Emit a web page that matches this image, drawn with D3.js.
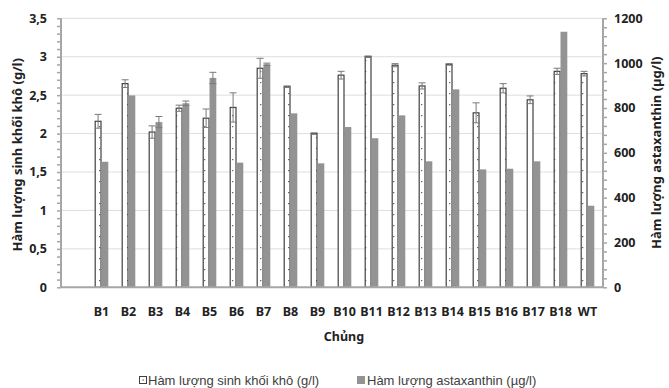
<!DOCTYPE html>
<html>
<head>
<meta charset="utf-8">
<script src="https://cdn.jsdelivr.net/npm/d3@7"></script>
<style>
  body { margin: 0; background: #fff; }
  svg { display: block; font-family: "Noto Sans", sans-serif; }
</style>
</head>
<body>
<svg id="chart" width="669" height="388"></svg>
<script>
// strains (first slot left empty, as in the original sheet)
var strains = ["", "B1", "B2", "B3", "B4", "B5", "B6", "B7", "B8", "B9", "B10", "B11", "B12", "B13", "B14", "B15", "B16", "B17", "B18", "WT"];
// dry biomass g/l and its error
var biomass = [null, 2.16, 2.65, 2.02, 2.33, 2.2, 2.34, 2.85, 2.61, 2.0, 2.76, 3.0, 2.89, 2.62, 2.9, 2.27, 2.59, 2.44, 2.81, 2.78];
var biomassErr = [null, 0.09, 0.05, 0.08, 0.04, 0.12, 0.19, 0.13, 0.01, 0.01, 0.05, 0.01, 0.02, 0.04, 0.01, 0.13, 0.06, 0.05, 0.04, 0.03];
// astaxanthin ug/l and its error
var asta = [null, 560, 856, 737, 821, 934, 556, 995, 776, 553, 715, 665, 767, 562, 883, 526, 529, 562, 1140, 364];
var astaErr = [null, 0, 0, 25, 10, 25, 0, 5, 0, 0, 0, 0, 0, 0, 0, 0, 0, 0, 0, 0];
var leftTicks = [0, 0.5, 1, 1.5, 2, 2.5, 3, 3.5];
var rightTicks = [0, 200, 400, 600, 800, 1000, 1200];

(function chart() {
    var svg = d3.select("#chart"),
        left = 61, right = 603, top = 18.3, bottom = 287.3;

    var x = d3.scaleBand().domain(strains).range([left, 601]);
    var x1 = d3.scaleBand().domain(["bio", "asta"]).range([-6.8, 6.8]);
    var y = d3.scaleLinear().domain([0, 3.5]).range([bottom, top]);
    var y2 = d3.scaleLinear().domain([0, 1200]).range([bottom, top]);

    // dotted pattern for the white bars
    var pat = svg.append("defs").append("pattern")
        .attr("id", "dots")
        .attr("patternUnits", "userSpaceOnUse")
        .attr("width", 7).attr("height", 11);
    pat.append("rect").attr("width", 7).attr("height", 11).attr("fill", "#fff");
    pat.append("rect").attr("x", 1).attr("y", 5).attr("width", 1.3).attr("height", 1.2).attr("fill", "#666");

    // grid
    svg.append("g").selectAll("line")
        .data(leftTicks.slice(1))
        .enter().append("line")
        .attr("x1", left).attr("x2", right)
        .attr("y1", function(d) { return y(d); })
        .attr("y2", function(d) { return y(d); })
        .attr("stroke", "#dedede").attr("stroke-width", 1);

    var rows = strains.map(function(s, i) {
        return {s: s, b: biomass[i], be: biomassErr[i], a: asta[i], ae: astaErr[i]};
    }).filter(function(d) { return d.b != null; });

    // biomass bars
    svg.append("g").selectAll("rect")
        .data(rows)
        .enter().append("rect")
        .attr("x", function(d) { return x(d.s) + x.bandwidth() / 2 + x1("bio") + 0.5; })
        .attr("y", function(d) { return y(d.b); })
        .attr("width", x1.bandwidth() - 1)
        .attr("height", function(d) { return bottom - y(d.b); })
        .attr("fill", "url(#dots)")
        .attr("stroke", "#404040").attr("stroke-width", 1.2);

    // astaxanthin bars
    svg.append("g").selectAll("rect")
        .data(rows)
        .enter().append("rect")
        .attr("x", function(d) { return x(d.s) + x.bandwidth() / 2 + x1("asta"); })
        .attr("y", function(d) { return y2(d.a); })
        .attr("width", x1.bandwidth())
        .attr("height", function(d) { return bottom - y2(d.a); })
        .attr("fill", "#939393");

    // error bars
    function errBars(key, errKey, scale, series) {
        var g = svg.append("g").attr("stroke", "#7a7a7a").attr("stroke-width", 1).attr("fill", "none");
        rows.filter(function(d) { return d[errKey] > 0; }).forEach(function(d) {
            var cx = x(d.s) + x.bandwidth() / 2 + x1(series) + x1.bandwidth() / 2,
                y0 = scale(d[key] - d[errKey]), y1 = scale(d[key] + d[errKey]);
            g.append("line").attr("x1", cx).attr("x2", cx).attr("y1", y0).attr("y2", y1);
            g.append("line").attr("x1", cx - 3.5).attr("x2", cx + 3.5).attr("y1", y0).attr("y2", y0);
            g.append("line").attr("x1", cx - 3.5).attr("x2", cx + 3.5).attr("y1", y1).attr("y2", y1);
        });
    }
    errBars("b", "be", y, "bio");
    errBars("a", "ae", y2, "asta");

    // axes
    var gl = svg.append("g").attr("transform", "translate(" + left + ",0)")
        .call(d3.axisLeft(y).tickValues(d3.range(0, 3.5001, 0.1)).tickSize(4).tickFormat(""));
    gl.selectAll("line").attr("stroke", "#a6a6a6").attr("stroke-width", 1.5);
    gl.select(".domain").attr("stroke", "#a6a6a6").attr("stroke-width", 2).attr("d", "M0," + top + "V" + bottom);

    var gr = svg.append("g").attr("transform", "translate(" + right + ",0)")
        .call(d3.axisRight(y2).tickValues(d3.range(0, 1200.1, 40)).tickSize(4).tickFormat(""));
    gr.selectAll("line").attr("stroke", "#a6a6a6").attr("stroke-width", 1.5);
    gr.select(".domain").attr("stroke", "#a6a6a6").attr("stroke-width", 2).attr("d", "M0," + top + "V" + bottom);

    svg.append("line").attr("x1", left).attr("x2", right)
        .attr("y1", bottom).attr("y2", bottom)
        .attr("stroke", "#a6a6a6").attr("stroke-width", 2);

    // tick labels
    svg.append("g").selectAll("text")
        .data(leftTicks)
        .enter().append("text")
        .attr("x", 47).attr("y", function(d) { return y(d); })
        .attr("dy", "0.35em").attr("text-anchor", "end")
        .attr("font-size", 12.5).attr("font-weight", "bold").attr("fill", "#222")
        .text(function(d) { return String(d).replace(".", ","); });

    svg.append("g").selectAll("text")
        .data(rightTicks)
        .enter().append("text")
        .attr("x", 614).attr("y", function(d) { return y2(d); })
        .attr("dy", "0.35em").attr("text-anchor", "start")
        .attr("font-size", 12.5).attr("font-weight", "bold").attr("fill", "#222")
        .text(function(d) { return d; });

    svg.append("g").selectAll("text")
        .data(rows)
        .enter().append("text")
        .attr("x", function(d) { return x(d.s) + x.bandwidth() / 2; })
        .attr("y", 316)
        .attr("text-anchor", "middle")
        .attr("font-size", 12.5).attr("font-weight", "bold").attr("fill", "#222")
        .text(function(d) { return d.s; });

    // axis titles
    svg.append("text")
        .attr("x", 344).attr("y", 341).attr("text-anchor", "middle")
        .attr("font-size", 12.5).attr("font-weight", "bold").attr("fill", "#222")
        .text("Chủng");

    svg.append("text")
        .attr("transform", "translate(22," + ((top + bottom) / 2 + 2) + ") rotate(-90)")
        .attr("text-anchor", "middle")
        .attr("font-size", 13).attr("font-weight", "bold").attr("fill", "#222")
        .text("Hàm lượng sinh khối khô (g/l)");

    svg.append("text")
        .attr("transform", "translate(661," + ((top + bottom) / 2) + ") rotate(-90)")
        .attr("text-anchor", "middle")
        .attr("font-size", 13).attr("font-weight", "bold").attr("fill", "#222")
        .text("Hàm lượng astaxanthin (µg/l)");

    // legend
    var lg = svg.append("g").attr("font-family", "Liberation Sans, Arial, sans-serif")
        .attr("font-size", 13).attr("fill", "#404040");
    lg.append("rect").attr("x", 139.5).attr("y", 376.5).attr("width", 7).attr("height", 7)
        .attr("fill", "#fff").attr("stroke", "#404040");
    lg.append("rect").attr("x", 142.5).attr("y", 379.5).attr("width", 1.2).attr("height", 1.2).attr("fill", "#404040");
    lg.append("text").attr("x", 148).attr("y", 385).text("Hàm lượng sinh khối khô (g/l)");
    lg.append("rect").attr("x", 357).attr("y", 376).attr("width", 8).attr("height", 8).attr("fill", "#939393");
    lg.append("text").attr("x", 367).attr("y", 385).text("Hàm lượng astaxanthin (µg/l)");
})();
</script>
</body>
</html>
